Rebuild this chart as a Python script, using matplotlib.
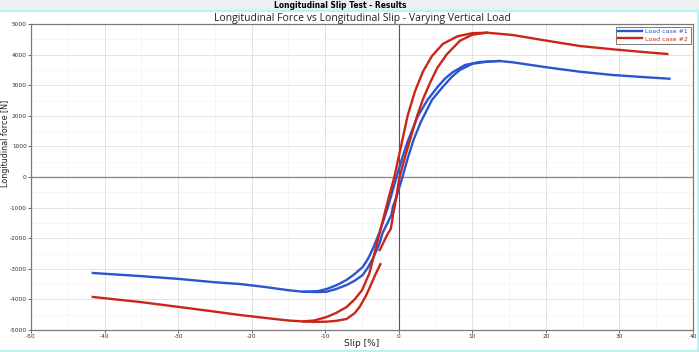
import numpy as np
import matplotlib
matplotlib.use("Agg")
import matplotlib.pyplot as plt
from matplotlib.ticker import MultipleLocator

# ---- data (slip [%], force [N]) ----
blue_a_slip = [-41.6, -35, -29.8, -25, -21.6, -18, -15, -13, -11, -9.8, -8.5, -7.1, -6.0, -4.9,
               -4.2, -3.5, -2.6, -1.5, -0.3, 0.5, 1.2, 2.5, 3.9, 5.3, 6.3, 7.3, 9.0, 11.0, 13.7,
               15.5, 20.1, 24.6, 29.1, 33.7, 36.8]
blue_a_force = [-3137, -3240, -3333, -3440, -3497, -3600, -3700, -3750, -3730, -3660, -3540, -3366,
                -3170, -2941, -2680, -2331, -1797, -1000, 0, 650, 1150, 1950, 2516, 2951, 3220,
                3420, 3660, 3760, 3791, 3748, 3585, 3441, 3333, 3258, 3212]

blue_b_slip = [-13, -11, -9.8, -8.5, -7.1, -6.0, -4.9, -4.2, -3.5, -2.6, -2.2, -1.0, -0.8, -0.3,
               0.5, 1.2, 2.0, 3.0, 4.5, 6.0, 7.2, 8.3, 10.0, 12.0, 13.7]
blue_b_force = [-3750, -3760, -3748, -3660, -3530, -3390, -3203, -2960, -2658, -2157, -1830,
                -1242, -970, -643, 0, 600, 1209, 1800, 2516, 2951, 3270, 3497, 3700, 3768, 3791]

red_a_slip = [-41.6, -35, -29.8, -25, -21.6, -18, -15, -13, -11.5, -9.8, -8.5, -7.1, -6.0, -5.0,
              -4.0, -3.2, -2.3, -1.4, -0.6, 0.3, 1.2, 2.2, 3.3, 4.5, 6.0, 8.0, 10.0, 12.0,
              15.5, 20.1, 24.6, 29.1, 33.7, 36.5]
red_a_force = [-3920, -4090, -4250, -4400, -4510, -4610, -4690, -4720, -4690, -4575, -4440, -4250,
               -4000, -3700, -3150, -2400, -1550, -700, 0, 1000, 2000, 2800, 3450, 3950, 4350,
               4600, 4700, 4716, 4640, 4455, 4281, 4173, 4075, 4020]

red_b1_slip = [-13, -11.5, -9.8, -8.5, -7.1, -6.0, -5.3, -4.5, -3.9, -3.2, -2.5]
red_b1_force = [-4720, -4735, -4728, -4700, -4640, -4450, -4237, -3900, -3585, -3200, -2850]

red_b2_slip = [-2.6, -2.1, -1.6, -1.1, -0.9, -0.8, -0.5, -0.2, 0.1, 0.9, 1.7, 2.5, 3.3, 4.2,
               5.2, 6.5, 8.3, 10.0, 12.0]
red_b2_force = [-2390, -2150, -1900, -1700, -1450, -1250, -900, -450, 0, 700, 1350, 2000, 2550,
                3050, 3550, 4000, 4450, 4650, 4716]

x_ticks = [-50, -40, -30, -20, -10, 0, 10, 20, 30, 40]
y_ticks = [-5000, -4000, -3000, -2000, -1000, 0, 1000, 2000, 3000, 4000, 5000]
labels = ["Load case #1", "Load case #2"]

BLUE = "#2a55cf"
RED = "#cc2418"

W, H = 699, 352
fig = plt.figure(figsize=(W / 100, H / 100), dpi=100)
fig.patch.set_facecolor("white")

# header band and frame
fig.patches.append(plt.Rectangle((0, 1 - 10 / H), 1, 10 / H, transform=fig.transFigure,
                                 facecolor="#efefef", edgecolor="none", zorder=0))
fig.lines.append(plt.Line2D([0, 1], [1 - 11 / H, 1 - 11 / H], transform=fig.transFigure,
                            color="#b8f4f4", lw=1.5))
fig.lines.append(plt.Line2D([0, 1], [1.5 / H, 1.5 / H], transform=fig.transFigure,
                            color="#b8f4f4", lw=1.5))
fig.lines.append(plt.Line2D([697.5 / W, 697.5 / W], [0, 1 - 11 / H], transform=fig.transFigure,
                            color="#b8f4f4", lw=1.5))
fig.text(340 / W, 1 - 5 / H, "Longitudinal Slip Test - Results", ha="center", va="center",
         fontsize=6, fontweight="bold", family="DejaVu Sans", fontstretch="condensed")

ax = fig.add_axes([31 / W, 22 / H, (693 - 31) / W, (330 - 24) / H])
ax.set_xlim(-50, 40)
ax.set_ylim(-5000, 5000)
ax.set_xticks(x_ticks)
ax.set_yticks(y_ticks)
ax.set_xticklabels([str(t) for t in x_ticks])
ax.set_yticklabels([str(t) for t in y_ticks])
ax.xaxis.set_minor_locator(MultipleLocator(5))
ax.yaxis.set_minor_locator(MultipleLocator(500))
ax.tick_params(axis="both", which="major", labelsize=4.2, length=2, width=0.6,
               color="#555555", labelcolor="#333333", pad=1)
ax.tick_params(axis="both", which="minor", length=0)
ax.grid(True, which="major", color="#e3e3e3", lw=0.7)
ax.grid(True, which="minor", color="#e6e6e6", lw=0.6, ls=(0, (1, 1.5)))
ax.set_axisbelow(True)
for s in ax.spines.values():
    s.set_color("#7a7a7a")
    s.set_linewidth(0.9)
ax.axhline(0, color="#8a8a8a", lw=1.0, zorder=1)
ax.axvline(0, color="#555555", lw=0.8, zorder=1)

lw = 1.7
ax.plot(blue_a_slip, blue_a_force, color=BLUE, lw=lw, label=labels[0], zorder=3)
ax.plot(blue_b_slip, blue_b_force, color=BLUE, lw=lw, zorder=3)
ax.plot(red_a_slip, red_a_force, color=RED, lw=lw, label=labels[1], zorder=3)
ax.plot(red_b1_slip, red_b1_force, color=RED, lw=lw, zorder=3)
ax.plot(red_b2_slip, red_b2_force, color=RED, lw=lw, zorder=3)

leg = ax.legend(loc="upper right", fontsize=4.5, frameon=True, fancybox=False, handlelength=3.8,
                borderpad=0.4, labelspacing=0.3, handletextpad=0.5, borderaxespad=0.4)
leg.get_frame().set_edgecolor("#555555")
leg.get_frame().set_linewidth(0.7)
for txt, c in zip(leg.get_texts(), [BLUE, RED]):
    txt.set_color(c)

ax.set_title("Longitudinal Force vs Longitudinal Slip - Varying Vertical Load", fontsize=7.5,
             color="#222222", pad=2, family="Open Sans")
fig.text(362 / W, 1 - 343 / H, "Slip [%]", ha="center", va="center", fontsize=6.5, color="#222222")
fig.text(6 / W, 1 - 143 / H, "Longitudinal force [N]", ha="center", va="center", rotation=90,
         fontsize=5.8, color="#222222")

fig.savefig("out.png", dpi=100)
